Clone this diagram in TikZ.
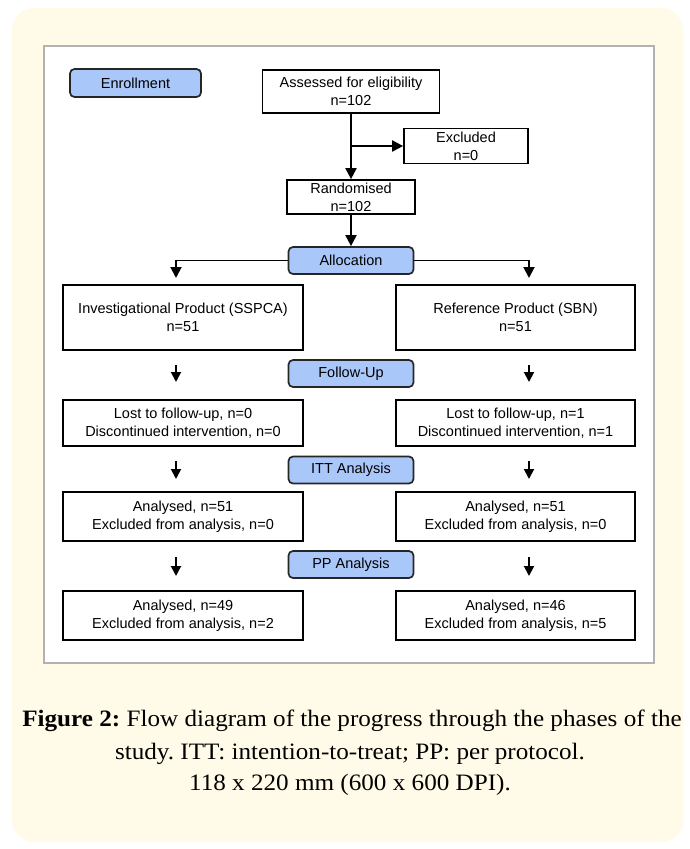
\documentclass[tikz,border=0pt]{standalone}
\usepackage{fontspec}
\setmainfont{Liberation Serif}
\newfontfamily\boxfont{Liberation Sans}
\usetikzlibrary{arrows.meta}
\definecolor{bgyellow}{RGB}{255,251,232}
\definecolor{panelgray}{RGB}{178,178,178}
\definecolor{phaseblue}{RGB}{170,199,250}
\frenchspacing
\begin{document}
\begin{tikzpicture}[x=1pt,y=-1pt,
  txt/.style={font=\boxfont\fontsize{14.5}{18}\selectfont, align=center, inner sep=0pt},
  wbox/.style={txt, draw=black, line width=1.7pt, fill=white},
  phase/.style={txt, draw=black!85, line width=1.7pt, fill=phaseblue, rounded corners=4.5pt, minimum width=125pt, minimum height=27pt},
  arr/.style={line width=1.9pt, -{Triangle[length=11pt,width=11pt]}},
  sarr/.style={line width=1.9pt, -{Triangle[length=10pt,width=10pt]}},
  captxt/.style={font=\fontsize{23.5}{28}\selectfont, inner sep=0pt}
]
\useasboundingbox (0,0) rectangle (690,849);
\fill[bgyellow, rounded corners=22pt] (12,8) rectangle (683,842);
\draw[panelgray, line width=1.6pt, fill=white] (44,46) rectangle (654,663);

% enrollment stage
\node[phase, minimum width=131pt, minimum height=28pt] (enr) at (135.5,83) {Enrollment};
\node[wbox, minimum width=177pt, minimum height=43pt] (ass) at (351,91.5) {Assessed for eligibility\\n=102};
\node[wbox, minimum width=124pt, minimum height=35pt] (exc) at (466,146) {Excluded\\n=0};
\node[wbox, minimum width=128pt, minimum height=34pt] (ran) at (351,197) {Randomised\\n=102};
\coordinate (br) at (351,146);
\draw[arr] (ass.south) -- (ran.north);
\draw[arr] (br) -- (exc.west);

% allocation
\node[phase] (alo) at (351,260.5) {Allocation};
\draw[arr] (ran.south) -- (alo.north);
\node[wbox, minimum width=240pt, minimum height=65pt] (invA) at (183,317.5) {Investigational Product (SSPCA)\\n=51};
\node[wbox, minimum width=239pt, minimum height=65pt] (refA) at (515.5,317.5) {Reference Product (SBN)\\n=51};
\coordinate (lt) at (176,278);
\coordinate (rt) at (529,278);
\draw[arr] (alo.west) -| (lt);
\draw[arr] (alo.east) -| (rt);

% follow-up
\node[phase] (fol) at (351,373.5) {Follow-Up};
\node[wbox, minimum width=240pt, minimum height=46pt] (invB) at (183,423) {Lost to follow-up, n=0\\Discontinued intervention, n=0};
\node[wbox, minimum width=239pt, minimum height=46pt] (refB) at (515.5,423) {Lost to follow-up, n=1\\Discontinued intervention, n=1};
\coordinate (l1a) at (176,365); \coordinate (l1b) at (176,382);
\coordinate (r1a) at (529,365); \coordinate (r1b) at (529,382);
\draw[sarr] (l1a) -- (l1b);
\draw[sarr] (r1a) -- (r1b);

% ITT
\node[phase] (itt) at (351,470) {ITT Analysis};
\node[wbox, minimum width=240pt, minimum height=49pt] (invC) at (183,516.5) {Analysed, n=51\\Excluded from analysis, n=0};
\node[wbox, minimum width=239pt, minimum height=49pt] (refC) at (515.5,516.5) {Analysed, n=51\\Excluded from analysis, n=0};
\coordinate (l2a) at (176,461); \coordinate (l2b) at (176,479);
\coordinate (r2a) at (529,461); \coordinate (r2b) at (529,479);
\draw[sarr] (l2a) -- (l2b);
\draw[sarr] (r2a) -- (r2b);

% PP
\node[phase] (pp) at (351,564.5) {PP Analysis};
\node[wbox, minimum width=240pt, minimum height=49pt] (invD) at (183,615.5) {Analysed, n=49\\Excluded from analysis, n=2};
\node[wbox, minimum width=239pt, minimum height=49pt] (refD) at (515.5,615.5) {Analysed, n=46\\Excluded from analysis, n=5};
\coordinate (l3a) at (176,557); \coordinate (l3b) at (176,576);
\coordinate (r3a) at (529,557); \coordinate (r3b) at (529,576);
\draw[sarr] (l3a) -- (l3b);
\draw[sarr] (r3a) -- (r3b);

% caption
\node[captxt] (cap1) at (352,721) {\scalebox{1.07}[1]{\textbf{Figure 2:} Flow diagram of the progress through the phases of the}};
\node[captxt] (cap2) at (350,754) {\scalebox{1.07}[1]{study. ITT: intention-to-treat; PP: per protocol.}};
\node[captxt] (cap3) at (350,785) {\scalebox{1.07}[1]{118 x 220 mm (600 x 600 DPI).}};
\end{tikzpicture}
\end{document}
